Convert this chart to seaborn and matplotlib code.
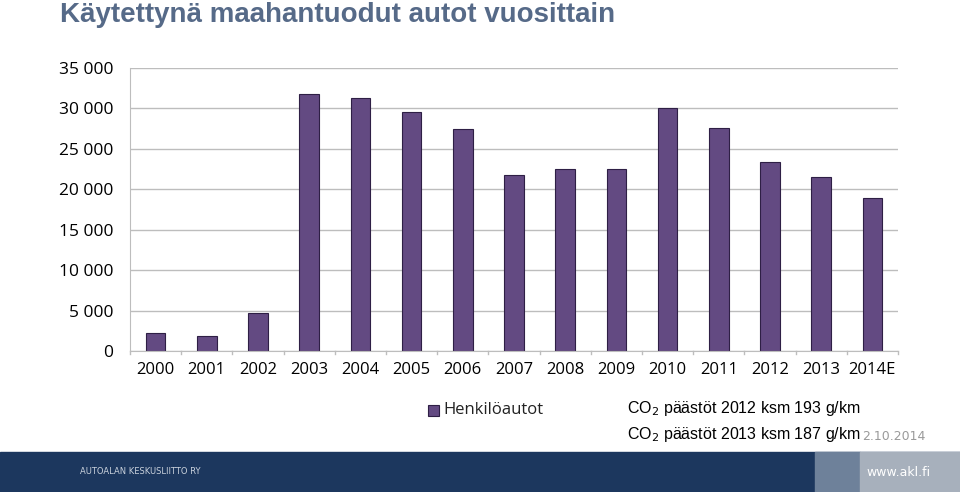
import matplotlib
matplotlib.use("Agg")
import matplotlib.pyplot as plt
import seaborn as sns
import pandas as pd
from matplotlib.patches import Rectangle

years = ["2000","2001","2002","2003","2004","2005","2006","2007","2008","2009","2010","2011","2012","2013","2014E"]
cars = [2200,1850,4700,31800,31300,29600,27500,21800,22500,22500,30100,27600,23400,21500,18900]
yticks = [0,5000,10000,15000,20000,25000,30000,35000]
ytick_labels = ["0","5 000","10 000","15 000","20 000","25 000","30 000","35 000"]

df = pd.DataFrame({"year": years, "val": cars})
fig = plt.figure(figsize=(9.6,4.92), dpi=100)
ax = fig.add_axes([130/960, 1-351/492, 768/960, 283/492])
sns.barplot(data=df, x="year", y="val", color="#634a82", width=0.38,
            edgecolor="#2e1f45", linewidth=0.8, saturation=1, ax=ax)
ax.set_ylim(0,35000)
ax.set_yticks(yticks)
ax.set_yticklabels(ytick_labels, fontsize=12.5, family="Open Sans")
ax.tick_params(axis="x", labelsize=12, length=0, pad=8)
for t in ax.get_xticklabels(): t.set_family("Open Sans")
ax.tick_params(axis="y", length=0, pad=12)
ax.set_xlabel(""); ax.set_ylabel("")
ax.grid(axis="y", color="#bdbdbd", linewidth=1)
ax.set_axisbelow(True)
for s in ["top","right"]: ax.spines[s].set_visible(False)
ax.spines["left"].set_color("#bdbdbd"); ax.spines["bottom"].set_color("#bdbdbd")
for i in range(len(years)+1):
    ax.plot([i-0.5,i-0.5],[0,-400],color="#bdbdbd",lw=1,clip_on=False)
ax.set_xlim(-0.5, len(years)-0.5)

fig.text(60/960, 1-15/492, "Käytettynä maahantuodut autot vuosittain", fontsize=20,
         fontweight="bold", color="#566a88", va="center", family="Liberation Sans")
fig.patches.append(Rectangle((0,0),1,40/492,transform=fig.transFigure,color="#1c375e",zorder=0))
fig.patches.append(Rectangle((815/960,0),45/960,40/492,transform=fig.transFigure,color="#6e819a",zorder=1))
fig.patches.append(Rectangle((860/960,0),100/960,40/492,transform=fig.transFigure,color="#a7b0bc",zorder=1))
fig.text(80/960, 20/492, "AUTOALAN KESKUSLIITTO RY", fontsize=6, color="#c9d1dc", va="center")
fig.text(866/960, 20/492, "www.akl.fi", fontsize=9, color="white", va="center")
fig.patches.append(Rectangle((428/960,1-416/492),11/960,11/492,transform=fig.transFigure,
                             facecolor="#634a82",edgecolor="#2e1f45",lw=0.8))
fig.text(443/960, 1-410/492, "Henkilöautot", fontsize=12, color="#222222", va="center", family="Open Sans")
fig.text(627/960, 1-408/492, "CO$_2$ päästöt 2012 ksm 193 g/km", fontsize=11.5, va="center", family="Liberation Sans")
fig.text(627/960, 1-434/492, "CO$_2$ päästöt 2013 ksm 187 g/km", fontsize=11.5, va="center", family="Liberation Sans")
fig.text(862/960, 1-437/492, "2.10.2014", fontsize=9, color="#9a9a9a", va="center")
fig.savefig("out.png", dpi=100)
